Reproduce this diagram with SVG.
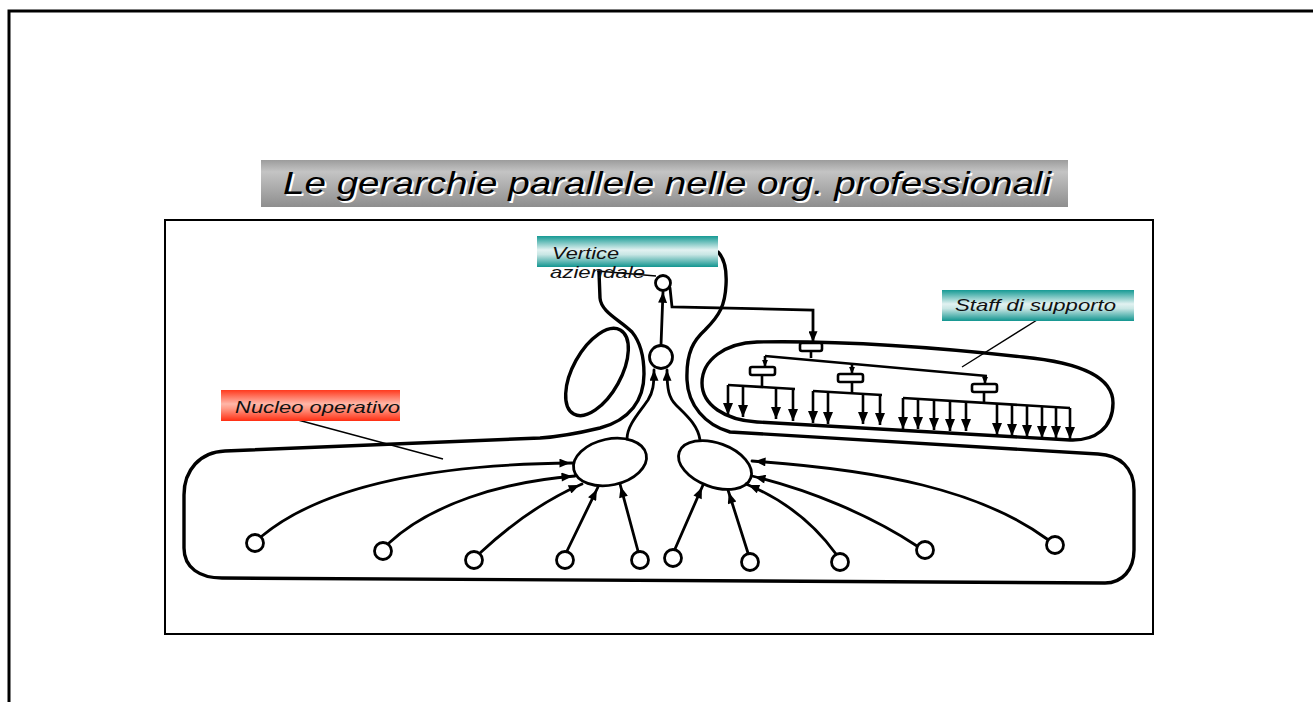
<svg xmlns="http://www.w3.org/2000/svg" width="1313" height="702" viewBox="0 0 1313 702">
  <defs>
    <linearGradient id="gGray" x1="0" y1="0" x2="0" y2="1">
      <stop offset="0" stop-color="#9c9c9c"/>
      <stop offset="0.25" stop-color="#c4c4c4"/>
      <stop offset="1" stop-color="#8e8e8e"/>
    </linearGradient>
    <linearGradient id="gTeal" x1="0" y1="0" x2="0" y2="1">
      <stop offset="0" stop-color="#169a94"/>
      <stop offset="0.45" stop-color="#e2f2f1"/>
      <stop offset="0.6" stop-color="#c8e6e4"/>
      <stop offset="1" stop-color="#129590"/>
    </linearGradient>
    <linearGradient id="gRed" x1="0" y1="0" x2="0" y2="1">
      <stop offset="0" stop-color="#ff3a1e"/>
      <stop offset="0.45" stop-color="#ffb7a8"/>
      <stop offset="0.6" stop-color="#ff9a86"/>
      <stop offset="1" stop-color="#ff2e12"/>
    </linearGradient>
    <marker id="ah" markerUnits="userSpaceOnUse" viewBox="0 0 12 10" refX="15" refY="5" markerWidth="13" markerHeight="9" orient="auto">
      <path d="M0,0 L12,5 L0,10 Z" fill="#000"/>
    </marker>
    <marker id="ahTip" markerUnits="userSpaceOnUse" viewBox="0 0 12 10" refX="12" refY="5" markerWidth="13" markerHeight="9" orient="auto">
      <path d="M0,0 L12,5 L0,10 Z" fill="#000"/>
    </marker>
    <marker id="ahTree" markerUnits="userSpaceOnUse" viewBox="0 0 12 10" refX="12" refY="5" markerWidth="15" markerHeight="10" orient="auto">
      <path d="M0,0 L12,5 L0,10 Z" fill="#000"/>
    </marker>
    <marker id="ahSmall" markerUnits="userSpaceOnUse" viewBox="0 0 12 10" refX="12" refY="5" markerWidth="7" markerHeight="7" orient="auto">
      <path d="M0,0 L12,5 L0,10 Z" fill="#000"/>
    </marker>
  </defs>
  <style>
    .frame { fill: none; stroke: #000; }
    .bound { fill: none; stroke: #000; stroke-width: 3.4; stroke-linejoin: round; stroke-linecap: round; }
    .node { fill: #fff; stroke: #000; stroke-width: 2.8; }
    .box { fill: #fff; stroke: #000; stroke-width: 2.6; }
    .edge { fill: none; stroke: #000; stroke-width: 2.8; stroke-linecap: round; }
    .tree { fill: none; stroke: #000; stroke-width: 2.6; stroke-linejoin: miter; }
    .leader { fill: none; stroke: #000; stroke-width: 1.4; }
    .lbl { font-family: "Liberation Sans", Arial, sans-serif; font-style: italic; fill: #111; }
  </style>

  <!-- page frame -->
  <path class="frame" d="M9,702 L9,11 L1313,11" stroke-width="3"/>

  <!-- title -->
  <g id="title">
    <rect x="261" y="160" width="807" height="47" fill="url(#gGray)"/>
    <text class="lbl" x="285" y="196" font-size="32" textLength="768" lengthAdjust="spacingAndGlyphs" style="fill:#fff">Le gerarchie parallele nelle org. professionali</text>
    <text class="lbl" x="283" y="194" font-size="32" textLength="768" lengthAdjust="spacingAndGlyphs" style="fill:#000">Le gerarchie parallele nelle org. professionali</text>
  </g>

  <!-- picture frame -->
  <rect class="frame" x="165" y="220" width="988" height="414" stroke-width="2" stroke="#222"/>

  <!-- operating core outline with the two channels towards the apex -->
  <g id="nucleo-boundary">
    <path class="bound" d="M599,272 L600,298 C601,312 620,320 632,332 C641,343 644,356 644,374 C644,400 630,420 600,428 C575,434 555,437 540,438 L225,451 C200,452 184,470 184,495 L184,548 C184,568 200,578 222,578 L1105,583 C1122,583 1134,570 1134,550 L1134,490 C1134,468 1120,455 1098,454 L730,432 C705,425 688,405 687,380 C686,352 694,340 705,330 C720,315 725,305 726,285 C727,268 724,258 718,252"/>
  </g>

  <!-- support staff outline -->
  <g id="staff-boundary">
    <path class="bound" d="M757,342 C860,340 960,350 1023,357 C1075,362 1113,375 1113,403 C1113,428 1095,441 1070,440 L757,422 C725,420 702,405 702,383 C702,360 725,343 757,342 Z"/>
  </g>

  <!-- ellipse left of the channel -->
  <g id="side-ellipse">
    <ellipse cx="597" cy="372" rx="24" ry="48" transform="rotate(29 597 372)" fill="none" stroke="#000" stroke-width="3.4"/>
  </g>

  <!-- apex -->
  <g id="apex">
    <circle class="node" cx="663" cy="283" r="7.5"/>
  </g>
  <g id="middle-line">
    <circle class="node" cx="661" cy="357" r="11.5"/>
  </g>

  <!-- core clusters -->
  <g id="core-left"><ellipse class="node" cx="610" cy="462" rx="37" ry="23" transform="rotate(-12 610 462)" stroke-width="3.2"/></g>
  <g id="core-right"><ellipse class="node" cx="715" cy="465" rx="38" ry="22" transform="rotate(20 715 465)" stroke-width="3.2"/></g>

  <!-- operators -->
  <g id="operators">
    <circle class="node" cx="255" cy="543" r="8.5"/>
    <circle class="node" cx="383" cy="551" r="8.5"/>
    <circle class="node" cx="474" cy="560" r="8.5"/>
    <circle class="node" cx="565" cy="560" r="8.5"/>
    <circle class="node" cx="640" cy="560" r="8.5"/>
    <circle class="node" cx="673" cy="558" r="8.5"/>
    <circle class="node" cx="750" cy="562" r="8.5"/>
    <circle class="node" cx="840" cy="562" r="8.5"/>
    <circle class="node" cx="925" cy="550" r="8.5"/>
    <circle class="node" cx="1055" cy="545" r="8.5"/>
  </g>

  <!-- staff units -->
  <g id="staff-units">
    <rect class="box" x="800" y="343" width="22" height="8" rx="2"/>
    <rect class="box" x="750" y="367" width="25" height="8" rx="2"/>
    <rect class="box" x="838" y="374" width="25" height="8" rx="2"/>
    <rect class="box" x="972" y="384" width="25" height="8" rx="2"/>
  </g>

  <!-- connectors -->
  <g id="connectors">
    <!-- vertical line of authority -->
    <path class="edge" d="M661,345 L663,292" marker-end="url(#ahTip)"/>
    <path class="edge" d="M627,439 C627,425 640,412 648,400 C653,392 654,385 654,370" marker-end="url(#ahTip)"/>
    <path class="edge" d="M700,440 C698,425 686,415 676,405 C669,398 667,390 667,370" marker-end="url(#ahTip)"/>
    <!-- apex to staff -->
    <path class="edge" d="M670,288 L672,307 L813,310 L813,342" marker-end="url(#ahTip)"/>

    <!-- operators to the left cluster -->
    <path class="edge" d="M262,536 C330,480 450,464 573,463" marker-end="url(#ah)"/>
    <path class="edge" d="M389,543 C430,505 500,482 575,476" marker-end="url(#ah)"/>
    <path class="edge" d="M480,553 C510,525 545,500 582,484" marker-end="url(#ah)"/>
    <path class="edge" d="M567,551 L598,487" marker-end="url(#ah)"/>
    <path class="edge" d="M638,551 L620,484" marker-end="url(#ah)"/>
    <!-- operators to the right cluster -->
    <path class="edge" d="M675,549 L703,485" marker-end="url(#ah)"/>
    <path class="edge" d="M748,553 L728,490" marker-end="url(#ah)"/>
    <path class="edge" d="M836,554 C815,525 785,500 746,484" marker-end="url(#ah)"/>
    <path class="edge" d="M917,546 C870,515 810,490 752,476" marker-end="url(#ah)"/>
    <path class="edge" d="M1047,539 C980,490 880,470 752,461" marker-end="url(#ah)"/>

    <!-- staff tree -->
    <path class="tree" d="M811,351 L811,358"/>
    <path class="tree" d="M765,356 L987,376"/>
    <path class="tree" d="M765,356 L765,367" marker-end="url(#ahSmall)"/>
    <path class="tree" d="M852,364 L852,374" marker-end="url(#ahSmall)"/>
    <path class="tree" d="M985,376 L985,384" marker-end="url(#ahSmall)"/>
    <path class="tree" d="M762,375 L762,386 M852,382 L852,393 M984,392 L984,402"/>
    <path class="tree" d="M728,385 L795,389 M813,391 L882,395 M903,398 L1070,408"/>
    <g marker-end="url(#ahTree)">
      <path class="tree" d="M728,385 L728,415"/>
      <path class="tree" d="M743,386 L743,417"/>
      <path class="tree" d="M776,388 L776,419"/>
      <path class="tree" d="M793,389 L793,421"/>
      <path class="tree" d="M813,391 L813,423"/>
      <path class="tree" d="M828,392 L828,424"/>
      <path class="tree" d="M863,394 L863,424"/>
      <path class="tree" d="M880,395 L880,425"/>
      <path class="tree" d="M903,398 L903,429"/>
      <path class="tree" d="M918,399 L918,429"/>
      <path class="tree" d="M934,400 L934,430"/>
      <path class="tree" d="M950,401 L950,431"/>
      <path class="tree" d="M966,402 L966,431"/>
      <path class="tree" d="M997,404 L997,435"/>
      <path class="tree" d="M1012,405 L1012,436"/>
      <path class="tree" d="M1027,405 L1027,437"/>
      <path class="tree" d="M1042,406 L1042,438"/>
      <path class="tree" d="M1056,407 L1056,438"/>
      <path class="tree" d="M1070,408 L1070,439"/>
    </g>

    <!-- label leaders -->
    <path class="leader" d="M597,271 L656,276"/>
    <path class="leader" d="M1037,320 L962,367"/>
    <path class="leader" d="M298,420 L443,459"/>
  </g>

  <!-- labels -->
  <g id="label-vertice">
    <rect x="537" y="236" width="181" height="31" fill="url(#gTeal)"/>
    <text class="lbl" x="552" y="259" font-size="17" textLength="67" lengthAdjust="spacingAndGlyphs">Vertice</text>
    <text class="lbl" x="550" y="278" font-size="17" textLength="95" lengthAdjust="spacingAndGlyphs">aziendale</text>
  </g>
  <g id="label-staff">
    <rect x="942" y="290" width="192" height="31" fill="url(#gTeal)"/>
    <text class="lbl" x="955" y="311" font-size="17" textLength="161" lengthAdjust="spacingAndGlyphs">Staff di supporto</text>
  </g>
  <g id="label-nucleo">
    <rect x="221" y="390" width="179" height="31" fill="url(#gRed)"/>
    <text class="lbl" x="235" y="413" font-size="17" textLength="165" lengthAdjust="spacingAndGlyphs">Nucleo operativo</text>
  </g>
</svg>
